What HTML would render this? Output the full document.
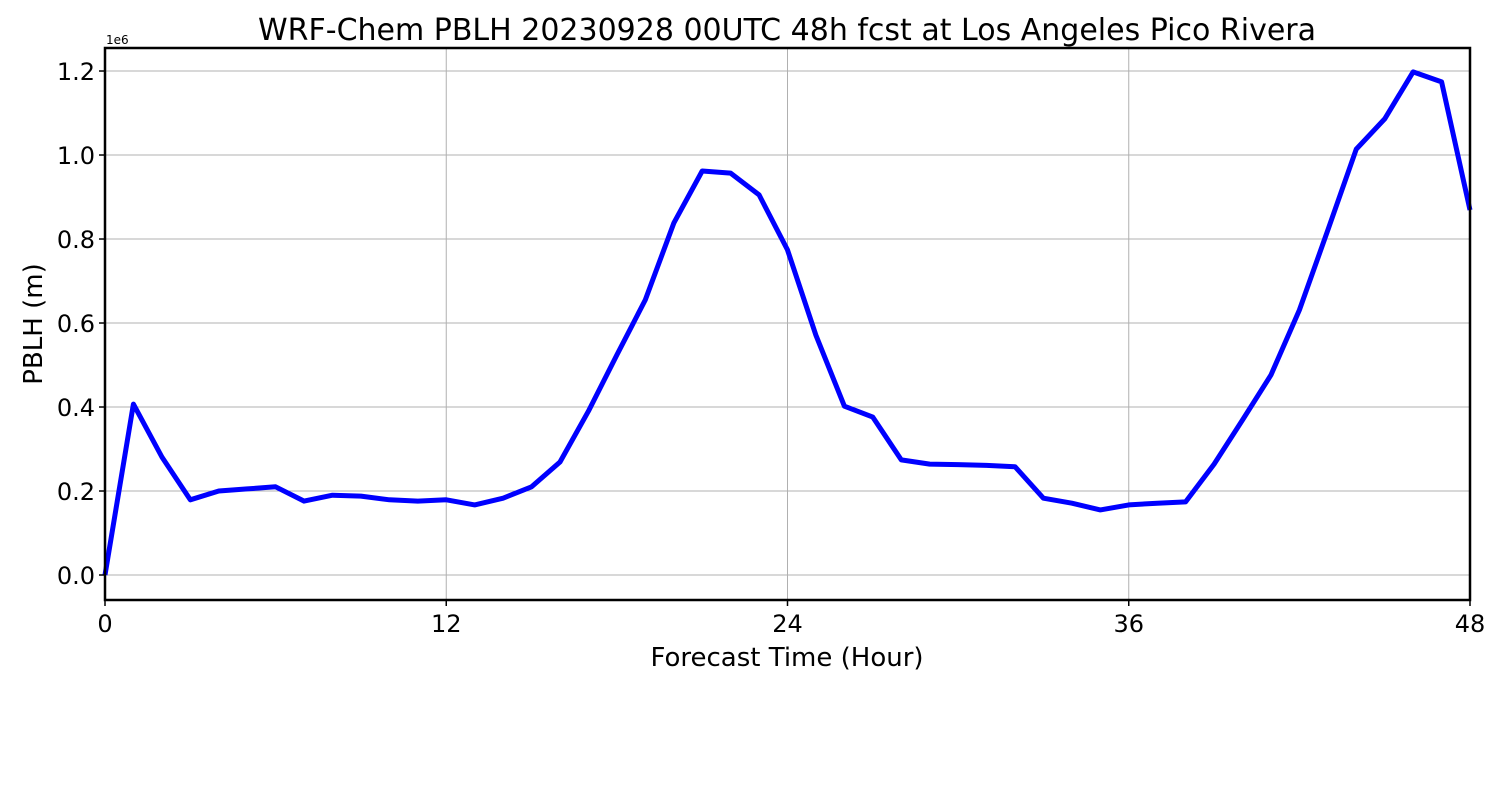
<!DOCTYPE html>
<html><head><meta charset="utf-8"><style>
body{margin:0;background:#fff;}
svg text{font-family:"DejaVu Sans","Liberation Sans",sans-serif;fill:#000;}
</style></head><body>
<svg id="chart" width="1500" height="800">
<rect width="1500" height="800" fill="#fff"/>
<text x="787" y="40" font-size="30" text-anchor="middle">WRF-Chem PBLH  20230928 00UTC 48h fcst at Los Angeles Pico Rivera</text>
<g id="grid"></g>
<g id="series"></g>
<g id="axes"></g>
<text x="106" y="44" font-size="12">1e6</text>
<text x="787" y="666" font-size="26" text-anchor="middle">Forecast Time (Hour)</text>
<text transform="translate(42,324) rotate(-90)" font-size="26" text-anchor="middle">PBLH  (m)</text>
</svg>
<script>
const hours = Array.from({length:49},(_,i)=>i);
const pblh = [0,0.407,0.281,0.179,0.200,0.205,0.210,0.176,0.190,0.188,0.179,0.176,0.179,0.167,0.183,0.210,0.269,0.390,0.524,0.655,0.838,0.962,0.957,0.905,0.774,0.571,0.402,0.376,0.274,0.264,0.263,0.261,0.258,0.183,0.171,0.155,0.167,0.171,0.174,0.264,0.369,0.476,0.631,0.821,1.014,1.086,1.198,1.174,0.869];
const xTicks = [0,12,24,36,48];
const yTicks = [0,0.2,0.4,0.6,0.8,1.0,1.2];
const yTickLabels = ["0.0","0.2","0.4","0.6","0.8","1.0","1.2"];
const L=105,R=1470,T=48,B=600;
const xMin=0,xMax=48,yMin=-0.0595,yMax=1.2548;
const xs=v=>L+(v-xMin)/(xMax-xMin)*(R-L);
const ys=v=>B-(v-yMin)/(yMax-yMin)*(B-T);
const NS="http://www.w3.org/2000/svg";
function mk(tag,parent,attrs){const e=document.createElementNS(NS,tag);for(const k in attrs)e.setAttribute(k,attrs[k]);parent.appendChild(e);return e;}
const grid=document.getElementById('grid'),axes=document.getElementById('axes'),series=document.getElementById('series');
xTicks.forEach(t=>{
  const g=mk('line',grid,{x1:xs(t),x2:xs(t),y1:T,y2:B,stroke:'#b0b0b0','stroke-width':1});
  
  
  const tk=mk('line',axes,{x1:xs(t),x2:xs(t),y1:B,y2:B+6,stroke:'#000','stroke-width':1.5});
  
  
  const tx=mk('text',axes,{x:xs(t),y:B+32,'font-size':24,'text-anchor':'middle'});
  tx.textContent=t;
  
  
});
yTicks.forEach((t,i)=>{
  const g=mk('line',grid,{x1:L,x2:R,y1:ys(t),y2:ys(t),stroke:'#b0b0b0','stroke-width':1});
  
  
  const tk=mk('line',axes,{x1:L-6,x2:L,y1:ys(t),y2:ys(t),stroke:'#000','stroke-width':1.5});
  
  
  const tx=mk('text',axes,{x:L-10,y:ys(t)+9,'font-size':24,'text-anchor':'end'});
  tx.textContent=yTickLabels[i];
  
  
});
const pts=hours.map((h,i)=>xs(h).toFixed(1)+','+ys(pblh[i]).toFixed(1)).join(' ');
const pl=mk('polyline',series,{points:pts,fill:'none',stroke:'#0000ff','stroke-width':5,'stroke-linejoin':'round'});


const fr=mk('rect',axes,{x:L,y:T,width:R-L,height:B-T,fill:'none',stroke:'#000','stroke-width':2.5});


</script>
</body></html>
